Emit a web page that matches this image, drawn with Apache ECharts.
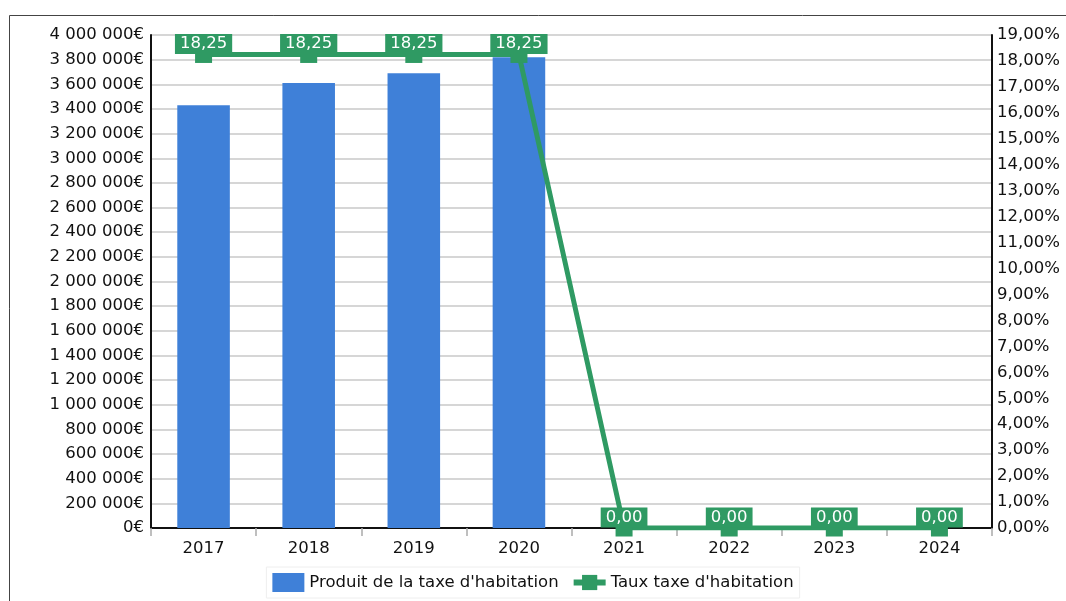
<!DOCTYPE html>
<html>
<head>
<meta charset="utf-8">
<script src="https://cdn.jsdelivr.net/npm/echarts@6/dist/echarts.min.js"></script>
<style>
html,body{margin:0;padding:0;background:#fff;}
#chart{width:1066px;height:601px;}
</style>
</head>
<body>
<div id="chart"></div>
<script>
const categories = ['2017','2018','2019','2020','2021','2022','2023','2024'];
const produitValues = [3430000, 3610000, 3690000, 3820000, null, null, null, null];
const tauxValues = [18.25, 18.25, 18.25, 18.25, 0, 0, 0, 0];
const seriesNames = ["Produit de la taxe d'habitation", "Taux taxe d'habitation"];

const FONT = 'DejaVu Sans';
const BLUE = '#3f80d8';
const GREEN = '#2f9a63';
const FS = 16.5;

function fmtEuro(v){
  return String(Math.round(v)).replace(/\B(?=(\d{3})+(?!\d))/g,' ') + '€';
}
function fmtPct(v){ return v.toFixed(2).replace('.', ',') + '%'; }
function fmtNum(v){ return v.toFixed(2).replace('.', ','); }

const chart = echarts.init(document.getElementById('chart'), null, {renderer:'canvas'});
chart.setOption({
  animation:false,
  backgroundColor:'#fff',
  textStyle:{fontFamily:FONT},
  graphic:[{
    type:'rect', left:7, top:13, z:-1, silent:true,
    shape:{x:0,y:0,width:1100,height:700},
    style:{fill:'none', stroke:'#444', lineWidth:1}
  }],
  grid:{left:151, right:74, top:35, bottom:73, containLabel:false},
  legend:{
    top:567, left:'center',
    padding:[6,6],
    borderColor:'#eeeeee', borderWidth:1,
    itemWidth:32, itemHeight:19, itemGap:12,
    textStyle:{fontFamily:FONT, fontSize:FS, color:'#111'},
    data:[
      {name:seriesNames[0], icon:'rect'},
      {name:seriesNames[1], lineStyle:{width:6, color:GREEN}, itemStyle:{color:GREEN}}
    ]
  },
  xAxis:{
    type:'category', data:categories,
    boundaryGap:true,
    axisLine:{show:true, lineStyle:{color:'#111', width:2}},
    axisTick:{show:true, alignWithLabel:false, length:8, lineStyle:{color:'#aaa', width:1.5}},
    axisLabel:{fontFamily:FONT, fontSize:FS, color:'#111', margin:12},
    splitLine:{show:false}
  },
  yAxis:[{
    type:'value', min:0, max:4000000, interval:200000,
    axisLine:{show:true, lineStyle:{color:'#111', width:2}},
    axisTick:{show:false},
    axisLabel:{fontFamily:FONT, fontSize:FS, color:'#111', margin:7, formatter:fmtEuro},
    splitLine:{show:true, lineStyle:{color:'#c8c8c8', width:1.5}}
  },{
    type:'value', min:0, max:19, interval:1, position:'right',
    axisLine:{show:true, lineStyle:{color:'#111', width:2}},
    axisTick:{show:false},
    axisLabel:{fontFamily:FONT, fontSize:FS, color:'#111', margin:5, formatter:fmtPct},
    splitLine:{show:false}
  }],
  series:[{
    name:seriesNames[0], type:'bar', data:produitValues,
    yAxisIndex:0, barWidth:'50%',
    itemStyle:{color:BLUE}, z:2
  },{
    name:seriesNames[1], type:'line', data:tauxValues,
    yAxisIndex:1, symbol:'rect', symbolSize:[17,17],
    lineStyle:{color:GREEN, width:5},
    itemStyle:{color:GREEN},
    z:5,
    label:{
      show:true, position:'top', distance:-8,
      formatter:p=>fmtNum(p.value),
      color:'#fff', fontFamily:FONT, fontSize:FS,
      backgroundColor:GREEN, padding:[1,5], lineHeight:18
    }
  }]
});
</script>
</body>
</html>
